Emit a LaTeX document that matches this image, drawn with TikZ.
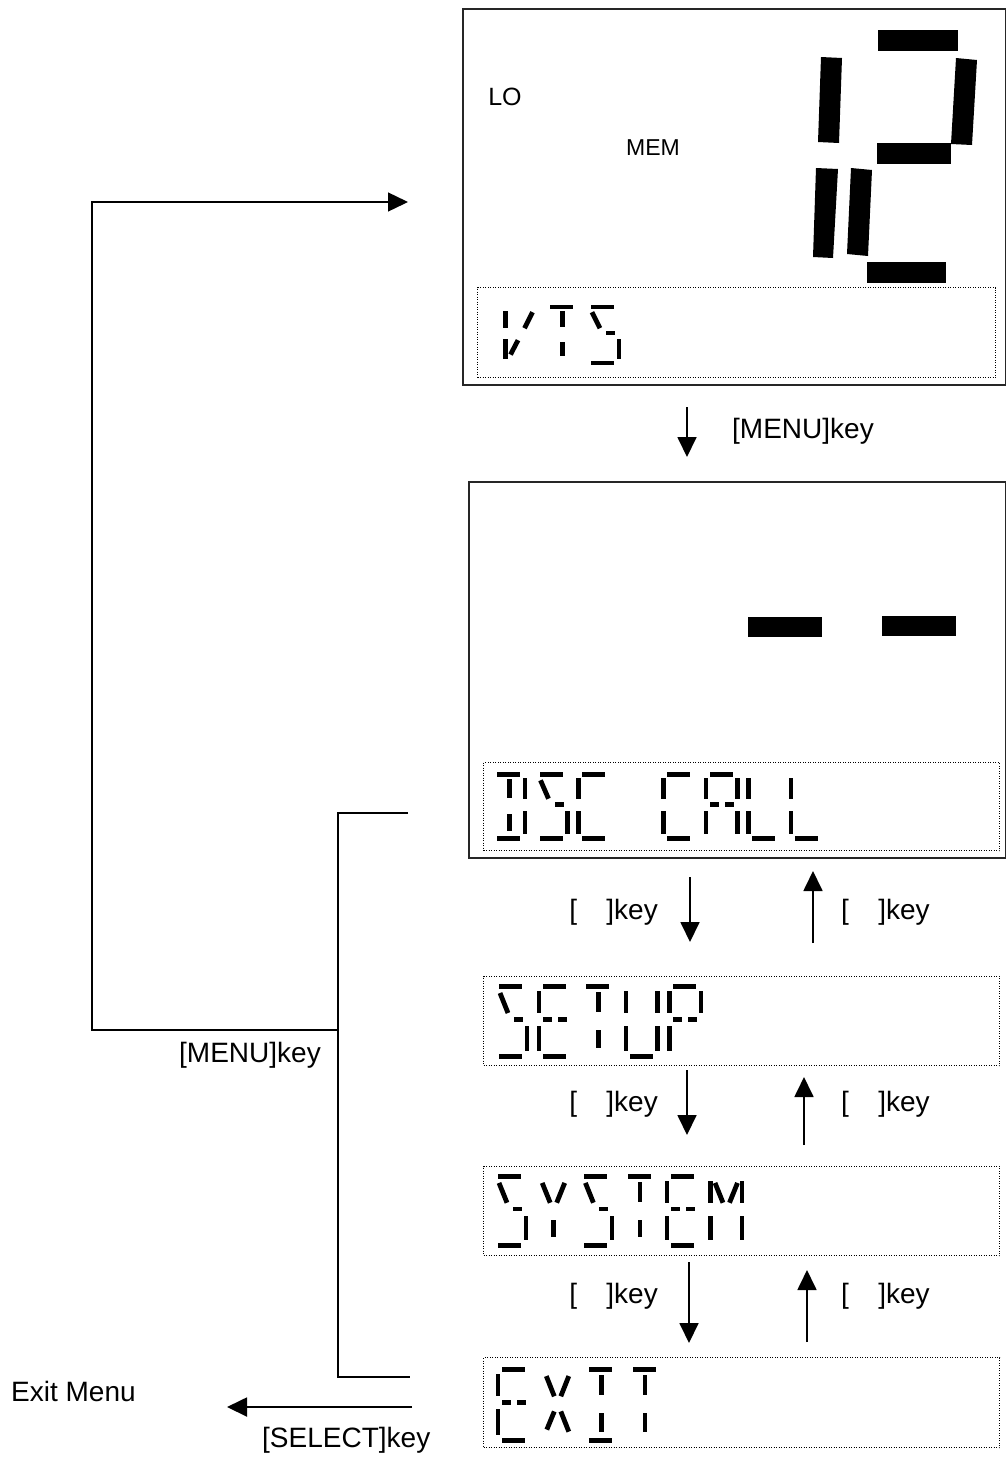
\documentclass[tikz,border=0pt]{standalone}
\usepackage{fontspec}
\setmainfont{Liberation Sans}
\usetikzlibrary{arrows.meta, positioning, calc}

\newcommand{\lblfont}{\fontsize{28}{33}\selectfont}

% LCD segments of one character cell (36 wide, 75 high)
\newcommand{\lcddef}[2]{\expandafter\def\csname lcdseg#1\endcsname{#2}}
\lcddef{a}{\fill (6,0) rectangle (29,5);}
\lcddef{f}{\fill (0,7) rectangle (4.5,29);}
\lcddef{b}{\fill (31.5,7) rectangle (36,29);}
\lcddef{i}{\fill (16,8) rectangle (20.5,28);}
\lcddef{h}{\draw[lcddiag] (7,9) -- (15,29);}
\lcddef{j}{\draw[lcddiag] (29.5,9) -- (21.5,29);}
\lcddef{g1}{\fill (6,33) rectangle (15,37.5);}
\lcddef{g2}{\fill (21,33) rectangle (30,37.5);}
\lcddef{e}{\fill (0,42) rectangle (4.5,67);}
\lcddef{c}{\fill (31.5,42) rectangle (36,67);}
\lcddef{l}{\fill (16,46) rectangle (20.5,64);}
\lcddef{m}{\draw[lcddiag] (15,44) -- (7.5,62);}
\lcddef{k}{\draw[lcddiag] (21.5,44) -- (29.5,64);}
\lcddef{d}{\fill (6,70) rectangle (29,75);}
\lcddef{sp}{}

% one row of characters: x0, y0, pitch, yscale, glyphs
\newcommand{\lcdline}[5]{%
  \foreach \g [count=\k from 0] in {#5} {
    \begin{scope}[shift={(#1+\k*#3,#2)}, yscale=#4]
      \foreach \s in \g {\csname lcdseg\s\endcsname}
    \end{scope}
  }}

\tikzset{
  screen/.style={draw=black!85, line width=1.5pt, inner sep=0pt, anchor=north west},
  textrow/.style={draw, line width=1pt, dash pattern=on 1pt off 1.5pt, inner sep=0pt, anchor=north west},
  lcddiag/.style={line width=4.8pt},
  keyarrow/.style={line width=1.8pt, -{Triangle[length=20pt,width=19pt]}},
  wire/.style={line width=1.4pt},
  lbl/.style={font=\lblfont, inner sep=0pt},
}

\begin{document}
\begin{tikzpicture}[x=1pt, y=-1pt]
    \useasboundingbox (0,0) rectangle (1006,1457);

    % Start screen
    \node[screen, minimum width=543pt, minimum height=376pt] (scr1) at (462,8) {};
    \node[textrow, minimum width=518pt, minimum height=90pt] (vts) at (477,287) {};
    \node[font=\fontsize{25}{28}\selectfont, inner sep=0pt] (lo) at (505,97) {LO};
    \node[font=\fontsize{23}{26}\selectfont, inner sep=0pt] (mem) at (653,148) {MEM};

    % Big digit
    \fill (878,30) rectangle (958,51);
    \fill (821,57) -- (842,58) -- (839,143) -- (818,142) -- cycle;
    \fill (956,58) -- (977,60) -- (972,145) -- (951,144) -- cycle;
    \fill (877,143) rectangle (951,164);
    \fill (816,168) -- (838,169) -- (833,258) -- (813,257) -- cycle;
    \fill (851,168) -- (872,170) -- (868,256) -- (847,254) -- cycle;
    \fill (867,262) rectangle (946,283);
    \lcdline{503}{305}{41}{0.8}{{f,j,e,m},{a,i,l},{a,h,g2,c,d}}

    % Menu screen
    \node[screen, minimum width=537pt, minimum height=376pt] (scr2) at (468,481) {};
    \node[textrow, minimum width=516pt, minimum height=88pt] (dsc) at (483,762) {};
    \fill (748,617) rectangle (822,637);
    \fill (882,616) rectangle (956,636);
    \lcdline{491}{772}{42.5}{0.92}{{a,i,b,l,c,d},{a,h,g2,c,d},{a,f,e,d},{sp},{a,f,e,d},{a,f,b,g1,g2,e,c},{f,e,d},{f,e,d}}

    % Menu items
    \node[textrow, minimum width=516pt, minimum height=89pt] (setup) at (483,976) {};
    \node[textrow, minimum width=516pt, minimum height=89pt] (system) at (483,1166) {};
    \node[textrow, minimum width=516pt, minimum height=90pt] (exit) at (483,1357) {};
    \lcdline{493}{984}{43.5}{1}{{a,h,g2,c,d},{a,f,g1,g2,e,d},{a,i,l},{f,b,e,c,d},{a,f,b,g1,g2,e}}
    \lcdline{492}{1174}{43.2}{0.99}{{a,h,g2,c,d},{h,j,l},{a,h,g2,c,d},{a,i,l},{a,f,g1,g2,e,d},{f,h,j,b,e,c}}
    \lcdline{495.5}{1367}{43.8}{1.01}{{a,f,g1,g2,e,d},{h,j,m,k},{a,i,l,d},{a,i,l}}

    % Key arrows
    \foreach \n/\x/\ya/\yb in {menu/687/407/457, dn1/690/877/942, up1/813/943/871,
        dn2/687/1070/1135, up2/804/1145/1077, dn3/689/1262/1343, up3/807/1342/1270} {
        \coordinate (\n s) at (\x,\ya);
        \coordinate (\n e) at (\x,\yb);
        \draw[keyarrow] (\n s) -- (\n e);
    }
    \node[lbl, anchor=west] (menukey) at (732,431) {[MENU]key};
    \foreach \y [count=\r] in {912,1104,1296} {
        \node[lbl, anchor=east] (dnkey\r) at (658,\y) {[\hspace{1.05em}]key};
        \node[lbl, anchor=west] (upkey\r) at (841,\y) {[\hspace{1.05em}]key};
    }

    % Return paths
    \coordinate (dsctap) at (408,813);
    \coordinate (exittap) at (410,1377);
    \coordinate (busend) at (338,1377);
    \coordinate (busjoin) at (338,1030);
    \coordinate (loopturn) at (92,202);
    \coordinate (scr1in) at (408,202);
    \draw[wire] (dsctap) -| (busend) -- (exittap);
    \draw[keyarrow, line width=1.4pt] (busjoin) -| (loopturn) -- (scr1in);
    \node[lbl, anchor=west] (menuback) at (179,1055) {[MENU]key};

    % Leave menu
    \coordinate (selfrom) at (412,1407);
    \coordinate (selto) at (227,1407);
    \draw[keyarrow] (selfrom) -- (selto);
    \node[lbl, anchor=west] (selectkey) at (262,1440) {[SELECT]key};
    \node[lbl, anchor=west] (exitmenu) at (11,1391) {Exit Menu};
\end{tikzpicture}
\end{document}
